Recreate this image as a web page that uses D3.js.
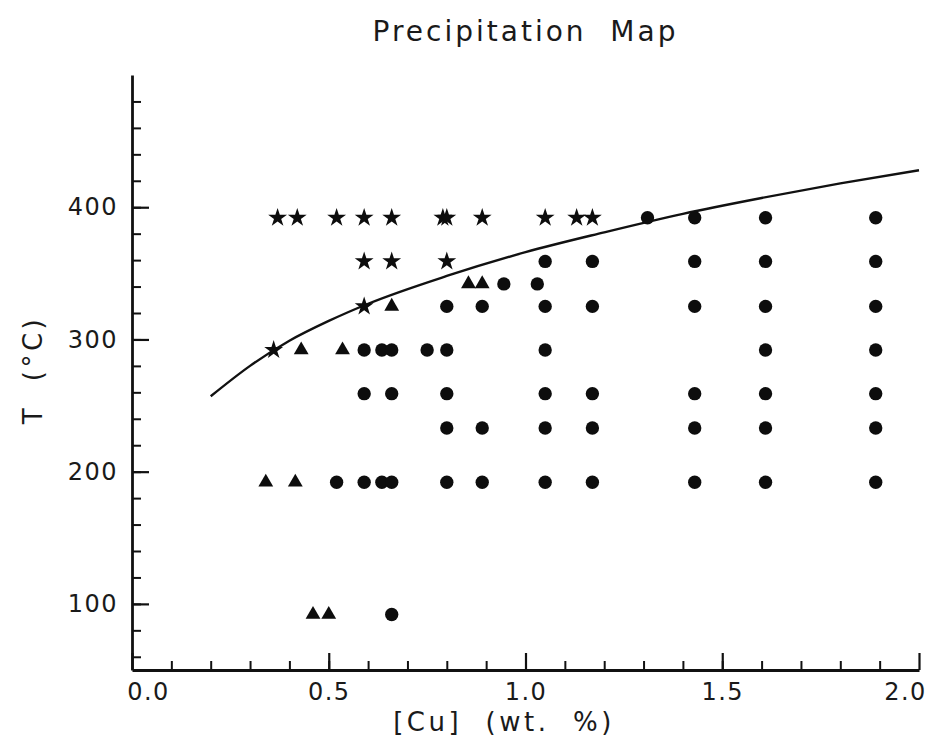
<!DOCTYPE html>
<html>
<head>
<meta charset="utf-8">
<script src="https://cdn.jsdelivr.net/npm/d3@7"></script>
<style>
  body { margin: 0; background: #fff; }
  text { font-family: "DejaVu Sans", sans-serif; fill: #1a1a1a; }
</style>
</head>
<body>
<div id="chart"></div>
<script>
// Precipitation map data: [Cu wt.%, T °C]
const stars = [
    [0.37, 392], [0.42, 392], [0.52, 392], [0.59, 392], [0.66, 392], [0.79, 392],
    [0.80, 392], [0.89, 392], [1.05, 392], [1.13, 392], [1.17, 392],
    [0.59, 359], [0.66, 359], [0.80, 359],
    [0.59, 325],
    [0.36, 292]
];
const triangles = [
    [0.855, 342], [0.89, 342],
    [0.66, 325],
    [0.43, 292], [0.535, 292],
    [0.34, 192], [0.415, 192],
    [0.46, 92], [0.50, 92]
];
const circles = [
    [1.31, 392], [1.43, 392], [1.61, 392], [1.89, 392],
    [1.05, 359], [1.17, 359], [1.43, 359], [1.61, 359], [1.89, 359],
    [0.945, 342], [1.03, 342],
    [0.80, 325], [0.89, 325], [1.05, 325], [1.17, 325], [1.43, 325], [1.61, 325], [1.89, 325],
    [0.59, 292], [0.635, 292], [0.66, 292], [0.75, 292], [0.80, 292], [1.05, 292], [1.61, 292], [1.89, 292],
    [0.59, 259], [0.66, 259], [0.80, 259], [1.05, 259], [1.17, 259], [1.43, 259], [1.61, 259], [1.89, 259],
    [0.80, 233], [0.89, 233], [1.05, 233], [1.17, 233], [1.43, 233], [1.61, 233], [1.89, 233],
    [0.52, 192], [0.59, 192], [0.635, 192], [0.66, 192], [0.80, 192], [0.89, 192], [1.05, 192],
    [1.17, 192], [1.43, 192], [1.61, 192], [1.89, 192],
    [0.66, 92]
];
// boundary line
const boundary = [
    [0.2, 257], [0.3, 280], [0.4, 299], [0.5, 314], [0.6, 327], [0.8, 348],
    [1.0, 366], [1.2, 381], [1.4, 395], [1.6, 407], [1.8, 418], [2.0, 428]
];
const xTickValues = [0.0, 0.5, 1.0, 1.5, 2.0];
const yTickValues = [100, 200, 300, 400];

const W = 930, H = 755;
const margin = {top: 75, right: 11, bottom: 85, left: 132};
const width = W - margin.left - margin.right;
const height = H - margin.top - margin.bottom;

const svg = d3.select("#chart")
    .append("svg")
    .attr("width", W)
    .attr("height", H);

const g = svg.append("g")
    .attr("transform", `translate(${margin.left},${margin.top})`);

const x = d3.scaleLinear().domain([0, 2]).range([0, width]);
const y = d3.scaleLinear().domain([50, 500]).range([height, 0]);

// Minor ticks
g.append("g")
    .attr("transform", `translate(0,${height})`)
    .call(d3.axisBottom(x).tickValues(d3.range(1, 20).map(d => d / 10)).tickSize(-9).tickFormat(""))
    .call(a => a.select(".domain").remove())
    .selectAll("line").attr("stroke", "#111").attr("stroke-width", 2);

g.append("g")
    .call(d3.axisLeft(y).tickValues(d3.range(60, 500, 20)).tickSize(-9).tickFormat(""))
    .call(a => a.select(".domain").remove())
    .selectAll("line").attr("stroke", "#111").attr("stroke-width", 2);

// Major ticks + labels
const xAxis = g.append("g")
    .attr("transform", `translate(0,${height})`)
    .call(d3.axisBottom(x).tickValues(xTickValues).tickSize(-17).tickSizeOuter(0).tickFormat(d3.format(".1f")));
xAxis.select(".domain").attr("stroke", "#111").attr("stroke-width", 2.8);
xAxis.selectAll("line").attr("stroke", "#111").attr("stroke-width", 2.2);
xAxis.selectAll("text")
    .attr("y", 13)
    .attr("dy", "0.71em")
    .attr("dx", (d, i) => i === 0 ? 16 : (i === xTickValues.length - 1 ? -14 : 0))
    .style("font-size", "24px")
    .style("letter-spacing", "1.5px")
    .style("fill", "#1a1a1a");

const yAxis = g.append("g")
    .call(d3.axisLeft(y).tickValues(yTickValues).tickSize(-17).tickSizeOuter(0));
yAxis.select(".domain").attr("stroke", "#111").attr("stroke-width", 2.8);
yAxis.selectAll("line").attr("stroke", "#111").attr("stroke-width", 2.2);
yAxis.selectAll("text")
    .attr("x", -14)
    .style("font-size", "24px")
    .style("letter-spacing", "1.5px")
    .style("fill", "#1a1a1a");

// Boundary curve
g.append("path")
    .datum(boundary)
    .attr("fill", "none")
    .attr("stroke", "#111")
    .attr("stroke-width", 2.4)
    .attr("d", d3.line().x(d => x(d[0])).y(d => y(d[1])).curve(d3.curveMonotoneX));

// Symbols
function drawSymbols(data, type, size) {
    g.append("g").selectAll("path")
        .data(data)
        .enter()
        .append("path")
        .attr("transform", d => `translate(${x(d[0])},${y(d[1])})`)
        .attr("d", d3.symbol().type(type).size(size))
        .attr("fill", "#0d0d0d");
}
drawSymbols(circles, d3.symbolCircle, 140);
drawSymbols(triangles, d3.symbolTriangle, 95);
drawSymbols(stars, d3.symbolStar, 110);

// Title
svg.append("text")
    .attr("x", margin.left + width / 2)
    .attr("y", 41)
    .attr("text-anchor", "middle")
    .style("font-size", "28px")
    .style("letter-spacing", "3px")
    .style("white-space", "pre")
    .text("Precipitation  Map");

// X axis label
svg.append("text")
    .attr("x", 504)
    .attr("y", 731)
    .attr("text-anchor", "middle")
    .style("font-size", "26px")
    .style("letter-spacing", "3.5px")
    .style("white-space", "pre")
    .text("[Cu]  (wt.  %)");

// Y axis label
svg.append("text")
    .attr("transform", "translate(33,370) rotate(-90)")
    .attr("text-anchor", "middle")
    .attr("dy", "0.36em")
    .style("font-size", "26px")
    .style("letter-spacing", "3.5px")
    .style("white-space", "pre")
    .text("T  (°C)");
</script>
</body>
</html>
